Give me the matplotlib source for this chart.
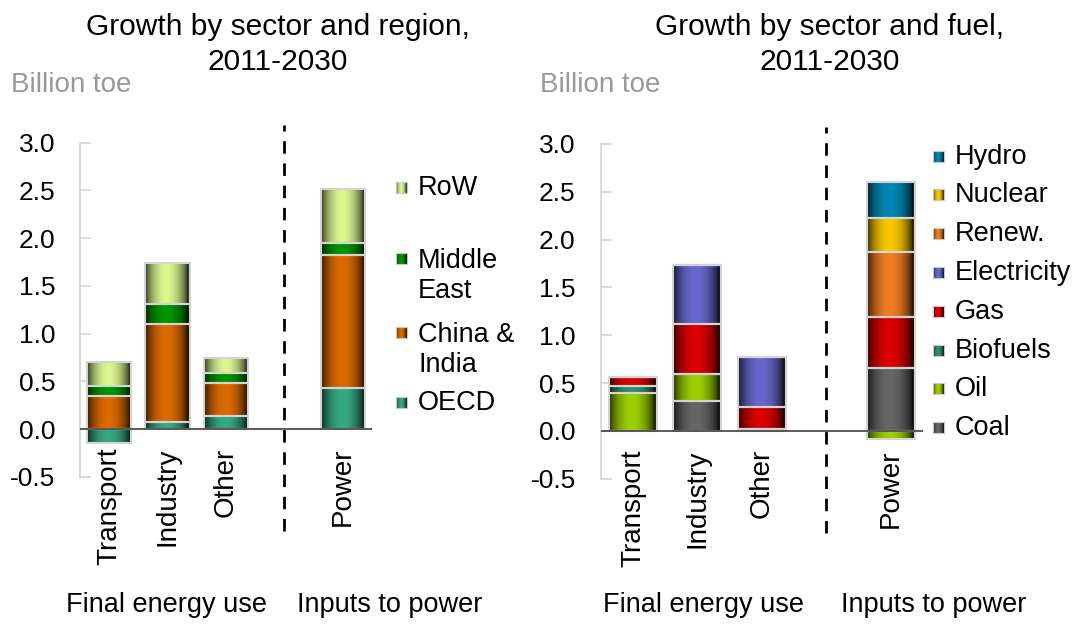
import matplotlib.pyplot as plt
import matplotlib.colors as mcolors
import numpy as np

plt.rcParams['font.family'] = ['Liberation Sans', 'DejaVu Sans']

# sectors along the x axis (slot 3 is left empty for the divider)
sectors = ["Transport", "Industry", "Other", "Power"]
xpos = [0, 1, 2, 4]

# growth by region, 2011-2030 (billion toe)
regions = ["OECD", "China &\nIndia", "Middle\nEast", "RoW"]
oecd = [-0.14, 0.08, 0.14, 0.43]
china_india = [0.35, 1.02, 0.34, 1.39]
middle_east = [0.10, 0.21, 0.11, 0.13]
row = [0.25, 0.43, 0.16, 0.57]
region_colors = ["#36a882", "#dc6a00", "#009400", "#dcf690"]

# growth by fuel, 2011-2030 (billion toe)
fuels = ["Coal", "Oil", "Biofuels", "Gas", "Electricity", "Renew.", "Nuclear", "Hydro"]
coal = [0.00, 0.31, 0.00, 0.66]
oil = [0.40, 0.29, 0.02, -0.08]
biofuels = [0.07, 0.00, 0.00, 0.00]
gas = [0.09, 0.52, 0.23, 0.53]
electricity = [0.00, 0.62, 0.52, 0.00]
renew = [0.00, 0.00, 0.00, 0.68]
nuclear = [0.00, 0.00, 0.00, 0.36]
hydro = [0.00, 0.00, 0.00, 0.37]
fuel_colors = ["#666666", "#9cce00", "#2e9468", "#dc0000", "#6868cc",
               "#f07c22", "#f8c800", "#0088b4"]

yticks = [-0.5, 0.0, 0.5, 1.0, 1.5, 2.0, 2.5, 3.0]

# horizontal shading profile: dark edges, bright middle
prof = np.linspace(0, 1, 64)
shade = 0.18 + 0.82 * np.sin(np.pi * np.clip(prof * 1.05, 0, 1)) ** 0.7


def gradient(color):
    rgb = np.array(mcolors.to_rgb(color))
    return (shade[:, None] * rgb[None, :])[None, :, :]


def shaded(ax, bars, color):
    img = gradient(color)
    for p in bars.patches:
        h = p.get_height()
        if h == 0:
            continue
        x0, y0 = p.get_x(), p.get_y()
        ax.imshow(img, extent=(x0, x0 + p.get_width(), y0, y0 + h),
                  aspect='auto', interpolation='bilinear', zorder=2)


def stack(ax, series, colors, width):
    pos = np.zeros(len(xpos))
    neg = np.zeros(len(xpos))
    for vals, c in zip(series, colors):
        v = np.array(vals)
        bottom = np.where(v >= 0, pos, neg)
        bars = ax.bar(xpos, v, width, bottom=bottom, facecolor='none',
                      edgecolor='#d4d4d4', linewidth=1.5, zorder=3)
        shaded(ax, bars, c)
        pos = pos + np.where(v > 0, v, 0)
        neg = neg + np.where(v < 0, v, 0)


def style(ax):
    ax.set_xlim(-0.5, 4.5)
    ax.set_ylim(-0.5, 3.0)
    ax.set_yticks(yticks)
    ax.set_yticklabels(["%.1f" % t for t in yticks], fontsize=19)
    ax.tick_params(axis='y', direction='in', length=8, color='#d4d4d4',
                   width=1.2, pad=18)
    ax.set_xticks([])
    for s in ['top', 'right', 'bottom']:
        ax.spines[s].set_visible(False)
    ax.spines['left'].set_color('#d4d4d4')
    ax.spines['left'].set_linewidth(1.2)
    ax.axhline(0, color='#404040', lw=1.2, zorder=4)
    ax.plot([3, 3], [-1.07, 3.18], color='black', lw=2, ls=(0, (4.5, 3.5)),
            clip_on=False, zorder=4)
    for x, name in zip(xpos, sectors):
        ax.text(x, -0.19, name, rotation=90, ha='center', va='top', fontsize=20)


fig = plt.figure(figsize=(10.77, 6.37), dpi=100)

ax1 = fig.add_axes([0.0743, 0.2512, 0.2711, 0.5248])
stack(ax1, [oecd, china_india, middle_east, row], region_colors, 0.76)
style(ax1)

ax2 = fig.add_axes([0.5577, 0.2483, 0.2993, 0.5257])
stack(ax2, [coal, oil, biofuels, gas, electricity, renew, nuclear, hydro],
      fuel_colors, 0.74)
style(ax2)

# titles and units
fig.text(0.2577, 0.980, "Growth by sector and region,\n2011-2030", ha='center',
         va='top', fontsize=21.5, linespacing=1.33)
fig.text(0.770, 0.980, "Growth by sector and fuel,\n2011-2030", ha='center',
         va='top', fontsize=21.5, linespacing=1.33)
fig.text(0.010, 0.866, "Billion toe", color='#999999', fontsize=20, va='center')
fig.text(0.501, 0.866, "Billion toe", color='#999999', fontsize=20, va='center')

fig.text(0.1546, 0.050, "Final energy use", ha='center', va='center', fontsize=19.5)
fig.text(0.3617, 0.050, "Inputs to power", ha='center', va='center', fontsize=19.5)
fig.text(0.653, 0.050, "Final energy use", ha='center', va='center', fontsize=19.5)
fig.text(0.8665, 0.050, "Inputs to power", ha='center', va='center', fontsize=19.5)


def legend_entry(x, ypix, label, color):
    # shaded square key, aligned with the first text line
    y = 1 - ypix / 637
    kax = fig.add_axes([x, y - 0.0086, 0.0102, 0.0173])
    kax.imshow(gradient(color), aspect='auto', interpolation='bilinear')
    kax.set_xticks([])
    kax.set_yticks([])
    for s in kax.spines.values():
        s.set_color('#c8c8c8')
        s.set_linewidth(0.8)
    nlines = label.count("\n") + 1
    yc = 1 - (ypix + (nlines - 1) * 16.5) / 637
    fig.text(x + 0.0205, yc, label, va='center', fontsize=19.5, linespacing=1.2)


# region legend, top entry first
region_y = [188, 259, 333, 403]
for lab, c, yy in zip(regions[::-1], region_colors[::-1], region_y):
    legend_entry(0.3677, yy, lab, c)

fuel_y = [157, 195, 234, 273, 312, 351, 389, 428]
for lab, c, yy in zip(fuels[::-1], fuel_colors[::-1], fuel_y):
    legend_entry(0.8663, yy, lab, c)

fig.savefig("out.png", dpi=100)
